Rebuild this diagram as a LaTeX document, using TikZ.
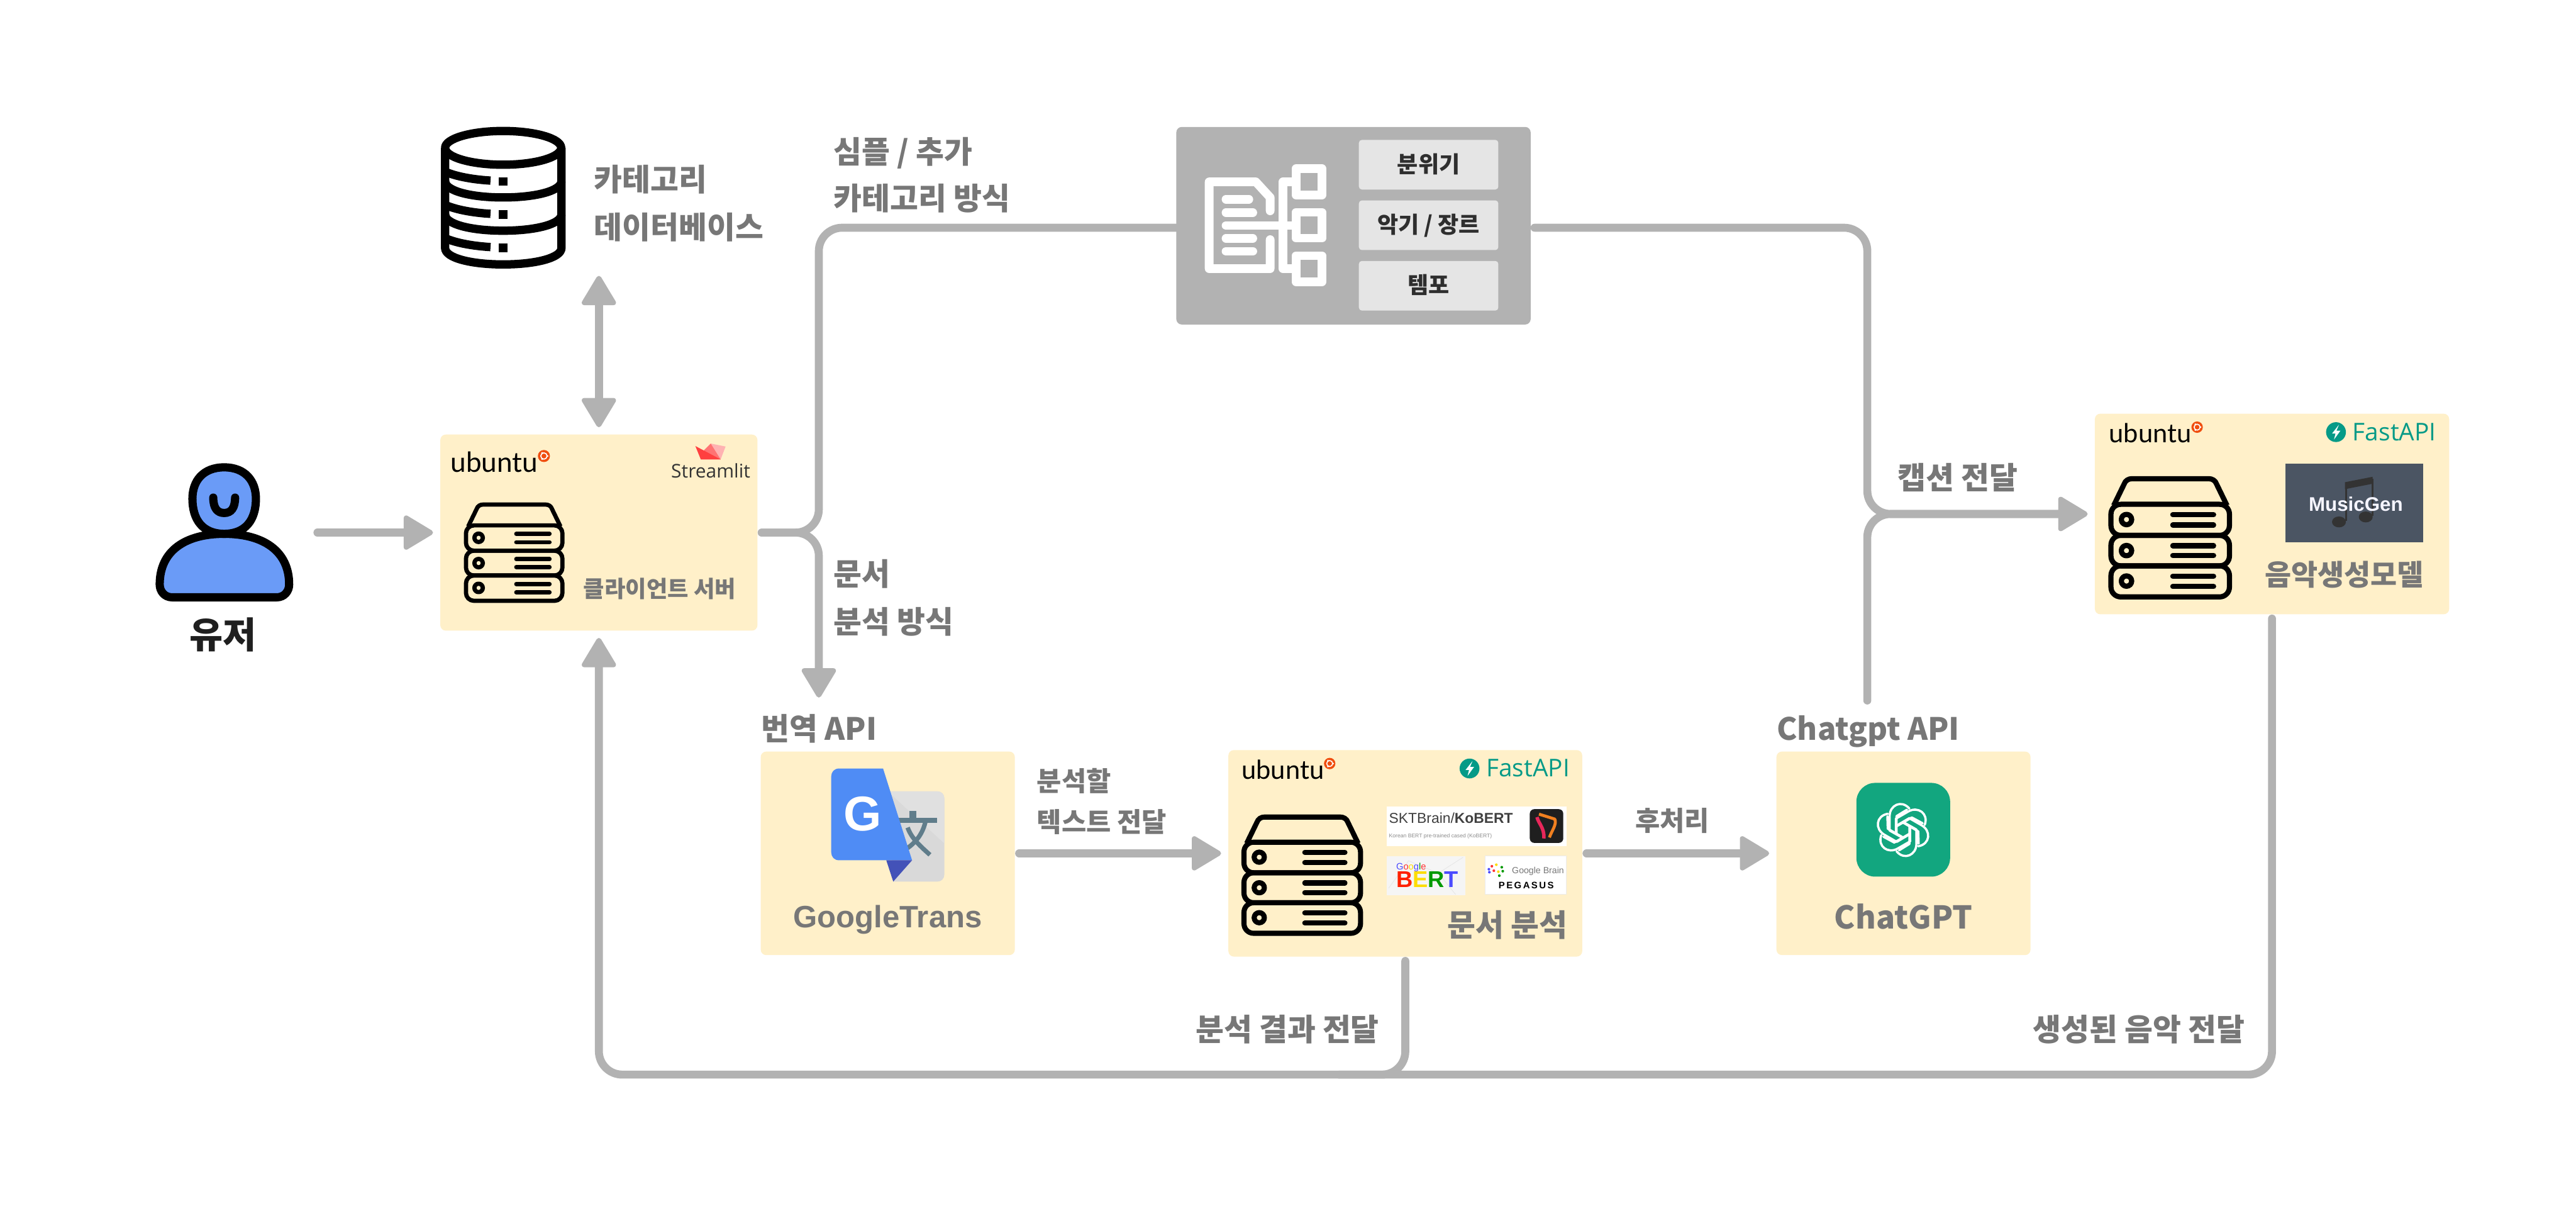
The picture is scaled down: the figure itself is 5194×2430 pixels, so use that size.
\documentclass[tikz,border=0pt]{standalone}
\usepackage{fontspec}
\usepackage{xcolor}
\usetikzlibrary{arrows.meta, positioning, calc}
\setmainfont{Noto Sans CJK KR}
\newfontfamily\ubuntufont{Lato}
\newfontfamily\opensansfont{Open Sans}
\newfontfamily\arialfont{Liberation Sans}
\newfontfamily\pegasusfont[LetterSpace=16]{Liberation Sans}

\definecolor{flowgrey}{HTML}{B2B2B2}
\definecolor{cardyellow}{HTML}{FFF0C9}
\definecolor{textgrey}{HTML}{777777}
\definecolor{textdark}{HTML}{2E2E2E}
\definecolor{innergrey}{HTML}{E5E5E5}
\definecolor{userblue}{HTML}{6A9BF7}
\definecolor{ubuntuorange}{HTML}{F04E0F}
\definecolor{fastgreen}{HTML}{059A87}
\definecolor{gptgreen}{HTML}{12A67F}
\definecolor{transblue}{HTML}{4F8CF5}
\definecolor{transdark}{HTML}{4352B8}
\definecolor{transglyph}{HTML}{607D8B}
\definecolor{musicslate}{HTML}{4B5563}
\definecolor{tileorange}{HTML}{F08020}
\definecolor{tilepink}{HTML}{E8275A}

\tikzset{
  flowline/.style={draw=flowgrey, line width=0.16cm, line cap=round, rounded corners=0.47cm, shorten <=0.08cm},
  flow/.style={flowline, shorten >=0.14cm, -{Triangle[length=0.64cm,width=0.74cm,line width=0.1cm,round]}},
  flowboth/.style={flowline, shorten >=0.14cm, shorten <=0.14cm,
    {Triangle[length=0.64cm,width=0.74cm,line width=0.1cm,round]}-{Triangle[length=0.64cm,width=0.74cm,line width=0.1cm,round]}},
  cardbox/.style={fill=cardyellow, rounded corners=0.11cm, inner sep=0pt},
  innerbox/.style={fill=innergrey, rounded corners=0.06cm, inner sep=0pt, minimum width=2.81cm, minimum height=1cm,
    text=textdark, text height=0.95em, text depth=0.07em, font=\fontsize{13}{15}\selectfont\bfseries},
  greytext/.style={text=textgrey, inner sep=0pt, anchor=west, text height=0.8em, text depth=0.1em, yshift=-0.12cm,
    font=\fontsize{17.6}{21}\selectfont\bfseries},
  smalltext/.style={greytext, font=\fontsize{15.4}{18}\selectfont\bfseries},
  icontext/.style={inner sep=0pt},
  treeline/.style={draw=white, line width=0.175cm, line cap=round, line join=round},
}

% server rack icon: x, y of the top left corner, scale
\newcommand{\serverstack}[3]{%
  \begin{scope}[shift={(#1,#2)},scale=#3,line width=#3*0.085cm,line join=round]
    \draw (8,48) -- (25,13) .. controls (27,7) and (32,4) .. (38,4) -- (164,4)
      .. controls (170,4) and (175,7) .. (177,13) -- (194,48);
    \draw[rounded corners=#3*0.16cm] (3.5,46) rectangle (198,97);
    \draw[rounded corners=#3*0.16cm] (3.5,97) rectangle (198,147);
    \draw[rounded corners=#3*0.16cm] (3.5,147) rectangle (198,198);
    \draw (29,71) circle[radius=8.5];
    \draw (29,122) circle[radius=8.5];
    \draw (29,172) circle[radius=8.5];
    \draw[line cap=round] (105,63) -- (172,63);
    \draw[line cap=round] (105,80) -- (172,80);
    \draw[line cap=round] (105,114) -- (172,114);
    \draw[line cap=round] (105,130) -- (172,130);
    \draw[line cap=round] (105,164) -- (172,164);
    \draw[line cap=round] (105,181) -- (172,181);
  \end{scope}}

% ubuntu mark: x, y of the baseline start, scale, node name
\newcommand{\ubuntumark}[4]{%
  \begin{scope}[shift={(#1,#2)},scale=#3]
    \node[icontext,anchor=base west,scale=#3,font=\ubuntufont\fontsize{15}{18}\selectfont] (#4) at (0,0) {ubuntu};
    \fill[ubuntuorange] (178,-31) circle[radius=11.5];
    \draw[white,line width=#3*0.02cm] (178,-31) circle[radius=6];
    \fill[white] (185,-31) circle[radius=1.8];
    \fill[white] (174.5,-37) circle[radius=1.8];
    \fill[white] (174.5,-25) circle[radius=1.8];
  \end{scope}}

% FastAPI mark: x, y of the round logo, node name
\newcommand{\fastapimark}[3]{%
  \begin{scope}[shift={(#1,#2)}]
    \fill[fastgreen] (0,0) circle[radius=20];
    \fill[white] (6,-15) -- (-8,3) -- (-1,3) -- (-4,15) -- (9,-3) -- (1,-3) -- cycle;
    \node[icontext,anchor=base west,text=fastgreen,font=\opensansfont\fontsize{14}{16}\selectfont] (#3) at (33,17) {FastAPI};
  \end{scope}}

\begin{document}
\begin{tikzpicture}[x=0.01cm,y=-0.01cm]

        \fill[white] (0,0) rectangle (5194,2430);
        \useasboundingbox (0,0) rectangle (5194,2430);

        %=====================
        % Cards
        %=====================
        \node[cardbox,minimum width=6.39cm,minimum height=3.95cm] (client) at (1207.5,1073.5) {};
        \node[cardbox,minimum width=5.12cm,minimum height=4.1cm] (trans) at (1790,1720) {};
        \node[cardbox,minimum width=7.13cm,minimum height=4.16cm] (docbox) at (2833.5,1720) {};
        \node[cardbox,minimum width=5.12cm,minimum height=4.1cm] (chatbox) at (3838,1720) {};
        \node[cardbox,minimum width=7.14cm,minimum height=4.04cm] (musicbox) at (4581,1036) {};
        \node[fill=flowgrey,rounded corners=0.11cm,inner sep=0pt,minimum width=7.14cm,minimum height=3.98cm] (treebox) at (2729,455) {};

        %=====================
        % Free ends of the connectors
        %=====================
        \coordinate (userout) at (632,1073.5);
        \coordinate (dbend) at (1207.5,542);
        \coordinate (transin) at (1651,1420);
        \coordinate (chatout) at (3765,1420);
        \coordinate (capturn) at (3765,1036);
        \coordinate (retturn) at (1207.5,2166);
        \coordinate (retmid) at (2700,2166);
        \coordinate (treein) at (2372,459);
        \coordinate (treeout) at (3086,459);

        %=====================
        % Connectors
        %=====================
        \draw[flow] (userout) -- (client.west);
        \draw[flowboth] (client.north) -- (dbend);
        \draw[flowline] (client.east) -| (1651,459) -- (treein);
        \draw[flow] (client.east) -| (transin);
        \draw[flow] (treeout) -| (capturn) -- (musicbox.west);
        \draw[flow] (chatout) |- (musicbox.west);
        \draw[flow] (trans.east) -- (docbox.west);
        \draw[flow] (docbox.east) -- (chatbox.west);
        \draw[flow] (docbox.south) |- (retturn) -- (client.south);
        \draw[flowline] (musicbox.south) |- (retmid);

        %=====================
        % User
        %=====================
        \draw[fill=userblue,line width=0.165cm,line join=round]
        (347,1204) -- (558,1204) .. controls (573,1204) and (583,1192) .. (583,1178)
        .. controls (583,1110) and (530,1076) .. (452,1076)
        .. controls (374,1076) and (322,1110) .. (322,1178)
        .. controls (322,1192) and (332,1204) .. (347,1204) -- cycle;
        \draw[fill=userblue,line width=0.165cm]
        (452,942) .. controls (495,942) and (516,970) .. (516,1005)
        .. controls (516,1048) and (495,1076) .. (452,1076)
        .. controls (409,1076) and (388,1048) .. (388,1005)
        .. controls (388,970) and (409,942) .. (452,942) -- cycle;
        \draw[line width=0.165cm,line cap=round]
        (430,1003) .. controls (430,1024) and (438,1034) .. (452,1034)
        .. controls (466,1034) and (474,1024) .. (474,1003);
        \node[inner sep=0pt,text=black!88,font=\fontsize{20.8}{24}\selectfont\bfseries] (userlabel) at (450,1280) {유저};

        %=====================
        % Database
        %=====================
        \begin{scope}[line width=0.168cm,line join=round]
        \draw (1014.5,298) ellipse [x radius=117, y radius=34];
        \draw (897.5,298) -- (897.5,500) .. controls (897.5,520) and (950,533) .. (1014.5,533)
        .. controls (1079,533) and (1132,520) .. (1132,500) -- (1132,298);
        \foreach \dy in {0,67} {
          \draw (897.5,365+\dy) .. controls (897.5,385+\dy) and (950,398+\dy) .. (1014.5,398+\dy)
          .. controls (1079,398+\dy) and (1132,385+\dy) .. (1132,365+\dy);
        }
        \foreach \dy in {0,67,134} {
          \draw (897.5,346+\dy) .. controls (920,356+\dy) and (955,362+\dy) .. (989,364+\dy);
          \fill (1006,357+\dy) rectangle (1023,374+\dy);
        }
        \end{scope}
        \node[greytext] (dbline1) at (1197,361) {카테고리};
        \node[greytext] (dbline2) at (1197,457) {데이터베이스};

        %=====================
        % Client server
        %=====================
        \ubuntumark{908}{952}{1.06}{clientubuntu}
        \fill[red!30] (1433,894) -- (1463,900) -- (1453,926) -- cycle;
        \fill[red!55] (1433,894) -- (1453,926) -- (1416,911) -- cycle;
        \fill[red!75!white] (1402,899) -- (1453,926) -- (1413,926) -- cycle;
        \node[icontext,anchor=base,text=black!80,font=\opensansfont\fontsize{10.8}{13}\selectfont] (streamlit) at (1433,963) {Streamlit};
        \serverstack{936}{1013}{1}
        \node[smalltext,font=\fontsize{13.1}{16}\selectfont\bfseries] (clientlabel) at (1176,1180) {클라이언트 서버};

        %=====================
        % Category tree
        %=====================
        \draw[treeline] (2561,425) -- (2561,398) -- (2532,366.5) -- (2438,366.5) -- (2438,541.5) -- (2561,541.5) -- (2561,483);
        \draw[treeline] (2472,401.5) -- (2518,401.5);
        \draw[treeline] (2472,428.5) -- (2526,428.5);
        \draw[treeline] (2472,454.5) -- (2613,454.5);
        \draw[treeline] (2472,480.5) -- (2526,480.5);
        \draw[treeline] (2472,506.5) -- (2526,506.5);
        \draw[treeline] (2613,366.5) -- (2587,366.5) -- (2587,541.5) -- (2613,541.5);
        \draw[treeline] (2613,340) rectangle (2665.5,393);
        \draw[treeline] (2613,428) rectangle (2665.5,480);
        \draw[treeline] (2613,515.5) rectangle (2665.5,568);
        \node[innerbox] (mood) at (2880.5,332) {분위기};
        \node[innerbox] (genre) at (2880.5,454) {악기 / 장르};
        \node[innerbox] (tempo) at (2880.5,576) {템포};

        %=====================
        % Google translate
        %=====================
        \fill[black!15] (1790,1595) -- (1890,1595) .. controls (1898,1595) and (1904,1601) .. (1904,1609)
        -- (1904,1763) .. controls (1904,1771) and (1898,1777) .. (1890,1777) -- (1801,1777) -- cycle;
        \fill[black!12] (1790,1595) -- (1890,1595) .. controls (1898,1595) and (1904,1601) .. (1904,1609) -- (1904,1700) -- cycle;
        \draw[transglyph,line width=0.09cm] (1812,1653.5) -- (1890,1653.5);
        \fill[transglyph] (1833,1635) rectangle (1847,1650);
        \draw[transglyph,line width=0.09cm] (1866,1656) .. controls (1860,1682) and (1846,1698) .. (1829,1710);
        \draw[transglyph,line width=0.09cm] (1830,1668) .. controls (1838,1690) and (1855,1705) .. (1875,1723);
        \fill[transblue] (1780.5,1549) -- (1692,1549) .. controls (1682,1549) and (1676,1556) .. (1676,1565)
        -- (1676,1718) .. controls (1676,1727) and (1682,1734) .. (1692,1734) -- (1839,1734) -- cycle;
        \fill[transdark] (1787,1734) -- (1839,1734) -- (1801,1777) -- cycle;
        \node[inner sep=0pt,text=white,font=\arialfont\fontsize{28}{30}\selectfont\bfseries] (transg) at (1740,1641) {G};
        \node[inner sep=0pt,text=textgrey,font=\arialfont\fontsize{17.7}{22}\selectfont\bfseries] (translabel) at (1790,1854) {GoogleTrans};
        \node[greytext] (transapi) at (1534,1467) {번역 API};

        %=====================
        % Document analysis
        %=====================
        \ubuntumark{2503}{1570}{1}{docubuntu}
        \fastapimark{2963}{1549}{docfast}
        \serverstack{2504}{1642}{1.208}

        \node[fill=white,inner sep=0pt,minimum width=3.62cm,minimum height=0.8cm] (kobert) at (2977,1666) {};
        \node[icontext,anchor=base west,text=black!75,font=\arialfont\fontsize{8.25}{10}\selectfont] (koberttitle) at (2800,1659) {SKTBrain/\textbf{KoBERT}};
        \node[icontext,anchor=base west,text=black!45,font=\arialfont\fontsize{3.1}{4}\selectfont] (kobertnote) at (2800,1688) {Korean BERT pre-trained cased (KoBERT)};
        \fill[black!88,rounded corners=0.09cm] (3084.5,1631) rectangle (3152,1699);
        \draw[tileorange,line width=0.06cm,line join=round] (3103,1641) -- (3135,1651) .. controls (3139,1662) and (3130,1672) .. (3124,1688);
        \draw[tilepink,line width=0.07cm] (3099,1647) .. controls (3102,1660) and (3114,1668) .. (3113,1690);

        \node[fill=black!4,inner sep=0pt,minimum width=1.58cm,minimum height=0.79cm] (bert) at (2875,1765.5) {};
        \draw[black!10,line width=0.01cm] (2800,1790) -- (2840,1735) -- (2900,1760) -- (2950,1728);
        \draw[black!10,line width=0.01cm] (2900,1760) -- (2935,1803);
        \node[icontext,anchor=base west,font=\arialfont\fontsize{5.3}{6}\selectfont] (bertgoogle) at (2814.5,1753)
        {\textcolor{blue!70}{G}\textcolor{red!80}{o}\textcolor{yellow!80!orange}{o}\textcolor{blue!70}{g}\textcolor{green!60!black}{l}\textcolor{red!80}{e}};
        \node[icontext,anchor=base west,font=\arialfont\fontsize{13.1}{15}\selectfont\bfseries] (berttext) at (2814.5,1789)
        {\textcolor{red!75!orange}{B}\textcolor{yellow!80!orange}{E}\textcolor{green!60!black}{R}\textcolor{blue!70}{T}};

        \node[draw=black!8,fill=white,line width=0.01cm,inner sep=0pt,minimum width=1.64cm,minimum height=0.78cm] (pegasus) at (3076,1764) {};
        \foreach \dx/\dy/\dotc in {3002/1752/blue!70,3008/1746/red!80,3017/1743/yellow!80!orange,3028/1748/green!60!black,3003/1758/blue!70,3012/1755/red!80,3021/1757/yellow!80!orange,3030/1756/green!60!black,3023/1765/green!60!black}
          \fill[\dotc] (\dx,\dy) circle[radius=2.7];
        \node[icontext,anchor=base west,text=textgrey,font=\arialfont\fontsize{5.1}{6}\selectfont] (brainname) at (3048,1761) {Google Brain};
        \node[icontext,anchor=base west,text=black,font=\pegasusfont\fontsize{5.4}{6}\selectfont\bfseries] (pegname) at (3021,1791) {PEGASUS};
        \node[greytext] (doclabel) at (2918,1863) {문서 분석};
        \node[smalltext] (send1) at (2090,1570) {분석할};
        \node[smalltext] (send2) at (2090,1653) {텍스트 전달};
        \node[smalltext,anchor=center] (postproc) at (3372,1650) {후처리};

        %=====================
        % ChatGPT
        %=====================
        \fill[gptgreen,rounded corners=0.38cm] (3743,1578) rectangle (3932,1767);
        \begin{scope}[shift={(3837,1673)}]
        \foreach \ang in {0,60,...,300} {
          \draw[white,rotate=\ang,line width=0.045cm,line join=round,line cap=round]
          (-4,14) -- (-27,1) -- (-27,-28) .. controls (-27,-50) and (-3,-62) .. (13,-43);
          \draw[white,rotate=\ang,line width=0.045cm,line join=round,line cap=round]
          (8,-41) -- (-13,-28) -- (-13,8);
        }
        \end{scope}
        \node[inner sep=0pt,text=textgrey,font=\fontsize{18}{22}\selectfont\bfseries] (chatlabel) at (3838,1848) {ChatGPT};
        \node[greytext] (chatapi) at (3582,1467) {Chatgpt API};

        %=====================
        % Music generation
        %=====================
        \ubuntumark{4252}{892}{1}{musicubuntu}
        \fastapimark{4710}{871}{musicfast}
        \serverstack{4252}{960}{1.228}
        \fill[musicslate] (4608,934) rectangle (4886,1093);
        \fill[black!80] (4728,972) -- (4784,961) -- (4784,975) -- (4728,986) -- cycle;
        \draw[black!80,line width=0.04cm] (4730,975) -- (4730,1050);
        \draw[black!80,line width=0.04cm] (4784,965) -- (4784,1040);
        \fill[black!80] (4716,1052) ellipse [x radius=14, y radius=11];
        \fill[black!80] (4770,1042) ellipse [x radius=14, y radius=11];
        \node[inner sep=0pt,text=blue!4,font=\arialfont\fontsize{11.3}{14}\selectfont\bfseries] (musicgen) at (4750,1016) {MusicGen};
        \node[greytext,font=\fontsize{16.5}{20}\selectfont\bfseries] (musiclabel) at (4566,1156) {음악생성모델};

        %=====================
        % Connector labels
        %=====================
        \node[greytext] (simple1) at (1680,305) {심플 / 추가};
        \node[greytext] (simple2) at (1680,398) {카테고리 방식};
        \node[greytext] (docway1) at (1680,1156) {문서};
        \node[greytext] (docway2) at (1680,1252) {분석 방식};
        \node[greytext] (caption) at (3826,961) {캡션 전달};
        \node[greytext] (result) at (2410,2074) {분석 결과 전달};
        \node[greytext] (music) at (4098,2074) {생성된 음악 전달};

\end{tikzpicture}
\end{document}
